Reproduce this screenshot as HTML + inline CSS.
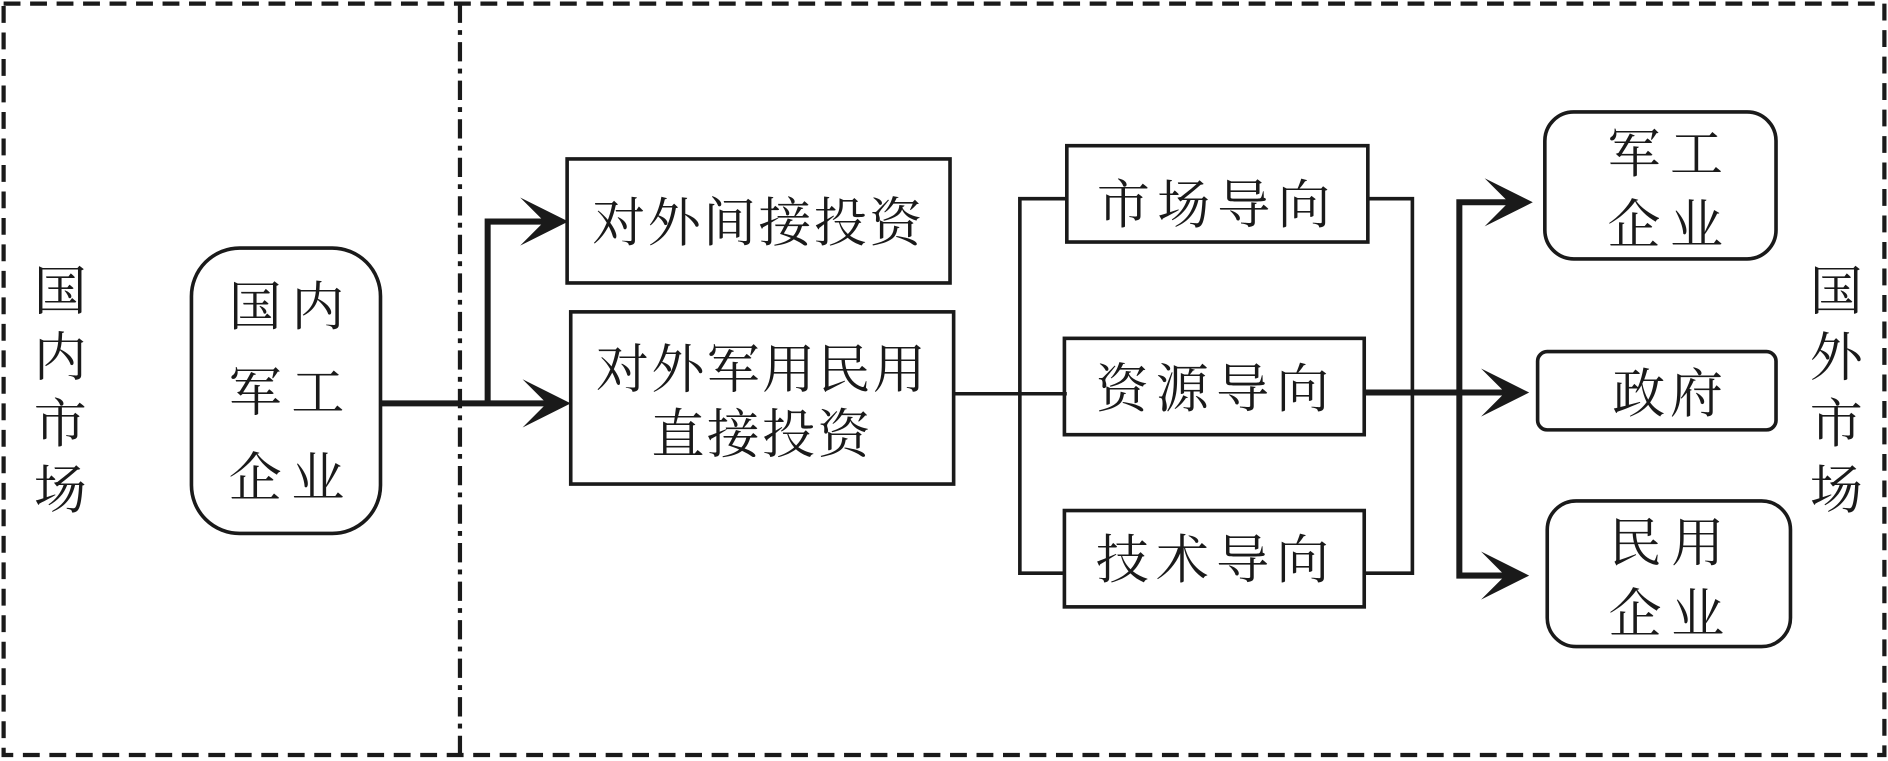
<!DOCTYPE html>
<html><head><meta charset="utf-8"><style>
html,body{margin:0;padding:0;background:#fff;}
svg{display:block;}
text{font-family:"Liberation Serif","Noto Serif CJK SC","Noto Sans CJK SC",serif;fill:#1a1a1a;}
</style></head><body>
<svg width="1888" height="761" viewBox="0 0 1568 632" preserveAspectRatio="none" xmlns="http://www.w3.org/2000/svg">
<g fill="none" stroke="#1a1a1a">
<rect x="3" y="3" width="1562" height="624" stroke-width="3.5" stroke-dasharray="14,8"/>
<line x1="382" y1="3" x2="382" y2="629" stroke-width="3.5" stroke-dasharray="16,6,4,6"/>
<rect x="159" y="206" width="157" height="237" rx="40" stroke-width="3"/>
<rect x="471" y="132" width="318" height="103" stroke-width="3"/>
<rect x="474" y="259" width="318" height="143" stroke-width="3"/>
<rect x="886" y="121" width="250" height="80" stroke-width="3"/>
<rect x="884" y="281" width="249" height="80" stroke-width="3"/>
<rect x="884" y="424" width="249" height="80" stroke-width="3"/>
<rect x="1283" y="93" width="192" height="122" rx="24" stroke-width="3"/>
<rect x="1277" y="292" width="198" height="65" rx="8" stroke-width="3"/>
<rect x="1285" y="416" width="202" height="121" rx="24" stroke-width="3"/>
<polyline points="316,335 455,335" stroke-width="5"/>
<polyline points="405,335 405,184 455,184" stroke-width="5"/>
<line x1="792" y1="327" x2="886" y2="327" stroke-width="3"/>
<polyline points="886,165 847,165 847,476 884,476" stroke-width="3"/>
<polyline points="1136,165 1173,165 1173,476 1133,476" stroke-width="3"/>
<line x1="1133" y1="326" x2="1250" y2="326" stroke-width="5"/>
<polyline points="1255,168 1212,168 1212,478 1255,478" stroke-width="5"/>
</g>
<g fill="#1a1a1a">
<polygon points="474,335 434,315 454,335 434,355"/>
<polygon points="472,184 432,164 452,184 432,204"/>
<polygon points="1270,326 1230,306 1250,326 1230,346"/>
<polygon points="1273,168 1233,148 1253,168 1233,188"/>
<polygon points="1270,478 1230,458 1250,478 1230,498"/>
</g>
<g font-size="44">
<text x="50" y="257" text-anchor="middle">国</text>
<text x="50" y="312" text-anchor="middle">内</text>
<text x="50" y="367" text-anchor="middle">市</text>
<text x="50" y="422" text-anchor="middle">场</text>
<text x="1525" y="257" text-anchor="middle">国</text>
<text x="1525" y="312" text-anchor="middle">外</text>
<text x="1525" y="367" text-anchor="middle">市</text>
<text x="1525" y="422" text-anchor="middle">场</text>
<text x="242" y="270" text-anchor="middle" letter-spacing="8">国内</text>
<text x="242" y="341" text-anchor="middle" letter-spacing="8">军工</text>
<text x="242" y="412" text-anchor="middle" letter-spacing="8">企业</text>
<text x="630" y="200" text-anchor="middle" letter-spacing="2">对外间接投资</text>
<text x="633" y="322" text-anchor="middle" letter-spacing="2">对外军用民用</text>
<text x="633" y="376" text-anchor="middle" letter-spacing="2">直接投资</text>
<text x="1011" y="185" text-anchor="middle" letter-spacing="6">市场导向</text>
<text x="1010" y="338" text-anchor="middle" letter-spacing="6">资源导向</text>
<text x="1010" y="480" text-anchor="middle" letter-spacing="6">技术导向</text>
<text x="1387" y="143" text-anchor="middle" letter-spacing="8">军工</text>
<text x="1387" y="202" text-anchor="middle" letter-spacing="8">企业</text>
<text x="1387" y="342" text-anchor="middle" letter-spacing="4">政府</text>
<text x="1388" y="466" text-anchor="middle" letter-spacing="8">民用</text>
<text x="1388" y="525" text-anchor="middle" letter-spacing="8">企业</text>
</g>
</svg>
</body></html>
